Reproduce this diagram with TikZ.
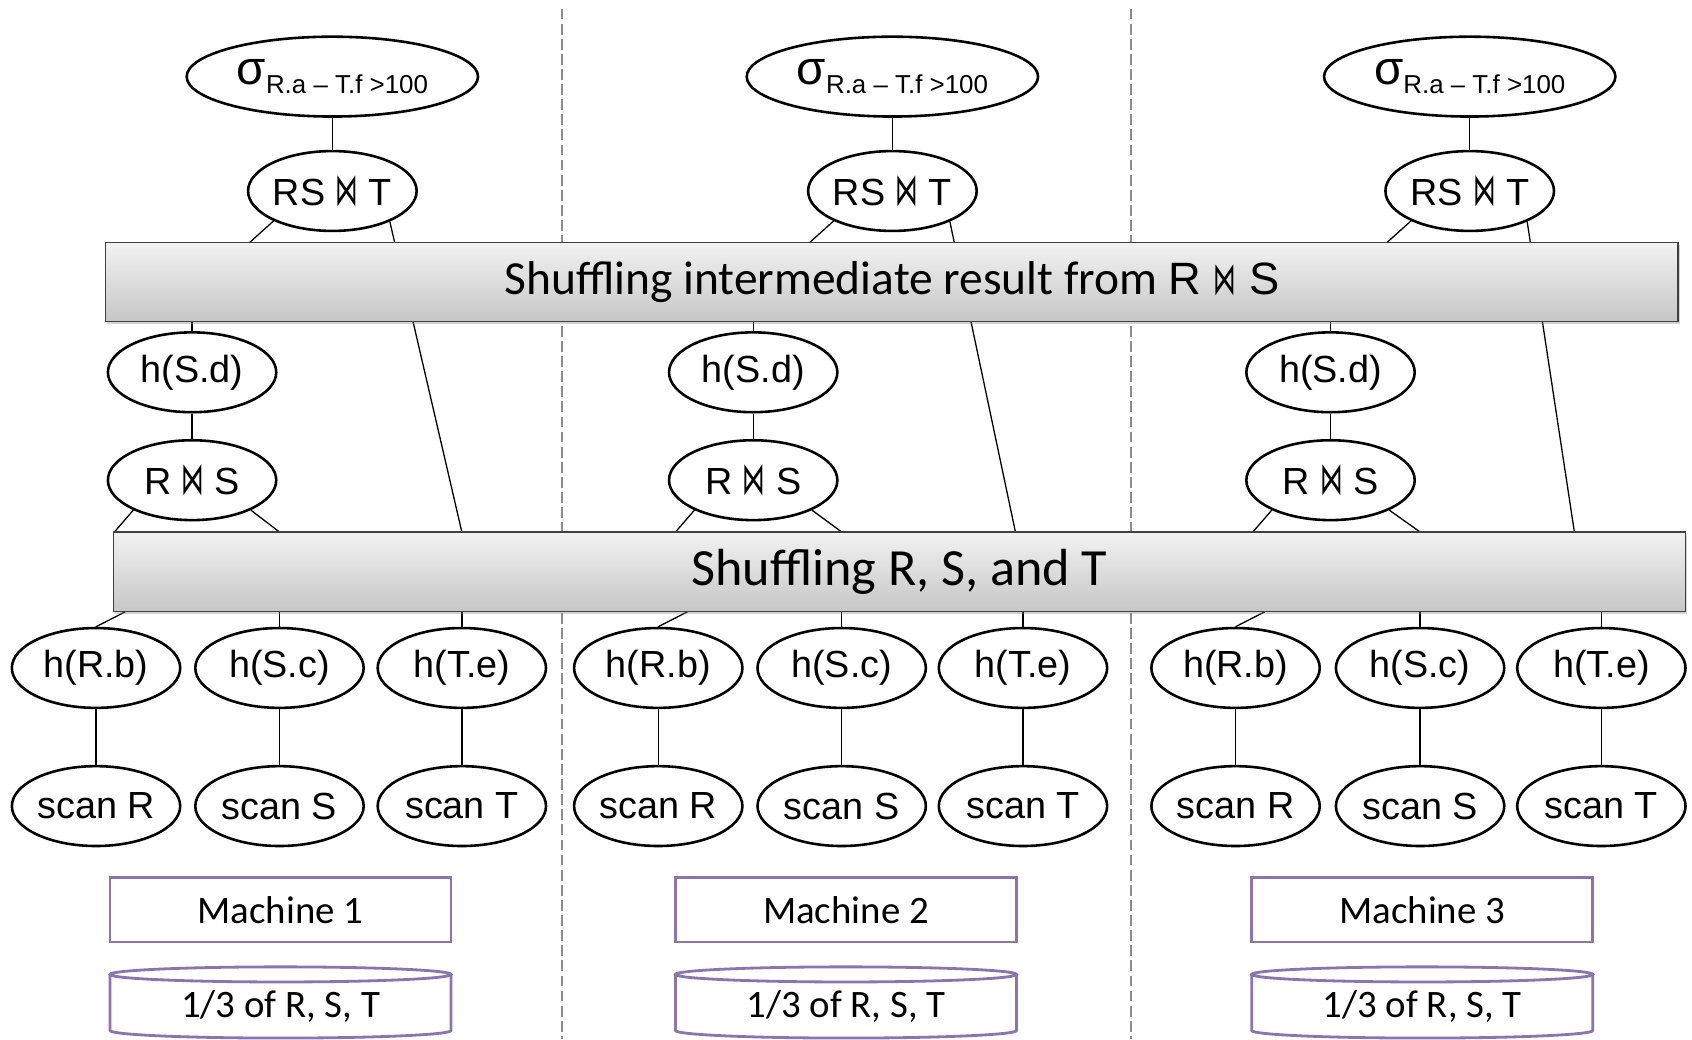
\documentclass[tikz,border=0pt]{standalone}
\usepackage{fontspec}
\setmainfont{Liberation Sans}
\newfontfamily\calfont{Carlito}
\newfontfamily\bowfont{DejaVu Sans}
\usetikzlibrary{shapes.geometric,shadows,backgrounds}
\newcommand{\bowtiesym}{{\bowfont\fontsize{21}{22}\selectfont\scalebox{0.5}[1]{⋈}}}
\definecolor{purp}{RGB}{138,116,178}
\definecolor{bartop}{RGB}{242,242,242}
\definecolor{barbot}{RGB}{198,198,198}
\tikzset{
  op/.style={ellipse, draw, line width=1.2pt, fill=white, minimum width=78pt,
    minimum height=37pt, inner sep=0pt, font=\fontsize{17.5}{20}\selectfont},
  sel/.style={op, minimum width=135pt},
  conn/.style={line width=0.6pt},
  bar/.style={rectangle, draw=black!75, line width=0.6pt, top color=bartop, bottom color=barbot,
    drop shadow={shadow xshift=0.8pt, shadow yshift=-1.2pt, opacity=0.35},
    minimum width=728.5pt, inner sep=0pt},
  mach/.style={rectangle, draw=purp, line width=1.3pt, fill=white, minimum width=158pt,
    minimum height=30pt, inner sep=0pt, font=\calfont\fontsize{18}{20}\selectfont},
  disklbl/.style={inner sep=0pt, font=\calfont\fontsize{18}{20}\selectfont},
  purpline/.style={draw=purp, line width=1.3pt},
  sep/.style={draw={rgb,255:red,140;green,140;blue,140}, line width=0.9pt, dash pattern=on 5pt off 2pt}
}
\begin{document}
\begin{tikzpicture}[x=0.5pt,y=-0.5pt]
\useasboundingbox (0,0) rectangle (1568,963);

% bars
\node[bar, minimum height=36.5pt, font=\calfont\fontsize{22}{26}\selectfont] (bar1) at (826.5,261.5)
  {Shuffling intermediate result from {\rmfamily\fontsize{21}{24}\selectfont R \bowtiesym{} S}};
\node[bar, minimum height=37pt, font=\calfont\fontsize{24.2}{28}\selectfont] (bar2) at (833.5,530) {Shuffling R, S, and T};

\foreach \i/\t/\m/\a/\b/\c/\mc/\te in {1/308/178/89/259/428/260/428, 2/827/698/610/780/948/784/941, 3/1362/1233/1145/1316/1484/1318/1459}{
  \node[sel] (sig\i) at (\t,71) {{\fontsize{22}{24}\selectfont σ}\raisebox{-4pt}{\fontsize{12}{14}\selectfont R.a – T.f >100}};
  \node[op] (rst\i) at (\t,177) {RS \bowtiesym{} T};
  \node[op] (hsd\i) at (\m,345) {h(S.d)};
  \node[op] (rs\i) at (\m,445) {R \bowtiesym{} S};
  \node[op] (hrb\i) at (\a,619) {h(R.b)};
  \node[op] (hsc\i) at (\b,619) {h(S.c)};
  \node[op] (hte\i) at (\c,619) {h(T.e)};
  \node[op] (scr\i) at (\a,747) {scan R};
  \node[op] (scs\i) at (\b,747) {scan S};
  \node[op] (sct\i) at (\c,747) {scan T};
  \node[mach] (mach\i) at (\mc,843) {Machine \i};
  \draw[purpline, fill=white] (\mc-158,903) -- (\mc-158,955)
     arc[start angle=180, end angle=360, x radius=79pt, y radius=3.5pt] -- (\mc+158,903);
  \draw[purpline] (\mc,903) ellipse [x radius=79pt, y radius=3.5pt];
  \node[disklbl] (disk\i) at (\mc,933) {1/3 of R, S, T};
  \coordinate (tl\i) at (\t-77,225);
  \coordinate (tr\i) at (\te,493);
  \coordinate (ml\i) at (\m-72,493);
  \coordinate (mr\i) at (\b,493);
  \coordinate (bl\i) at (\a+27,567);
}

\begin{scope}[on background layer]
  \draw[sep] (521,8) -- (521,963);
  \draw[sep] (1048,8) -- (1048,963);
  \foreach \i in {1,2,3}{
    \draw[conn] (sig\i) -- (rst\i);
    \draw[conn] (rst\i.-153) -- (tl\i);
    \draw[conn] (rst\i.-28) -- (tr\i);
    \draw[conn] (hsd\i.north) -- (hsd\i.north |- bar1.south);
    \draw[conn] (hsd\i) -- (rs\i);
    \draw[conn] (rs\i.-153) -- (ml\i);
    \draw[conn] (rs\i.-27) -- (mr\i);
    \draw[conn] (hrb\i.north) -- (bl\i);
    \draw[conn] (hsc\i.north) -- (hsc\i.north |- bar2.south);
    \draw[conn] (hte\i.north) -- (hte\i.north |- bar2.south);
    \draw[conn] (hrb\i) -- (scr\i);
    \draw[conn] (hsc\i) -- (scs\i);
    \draw[conn] (hte\i) -- (sct\i);
  }
\end{scope}
\end{tikzpicture}
\end{document}
